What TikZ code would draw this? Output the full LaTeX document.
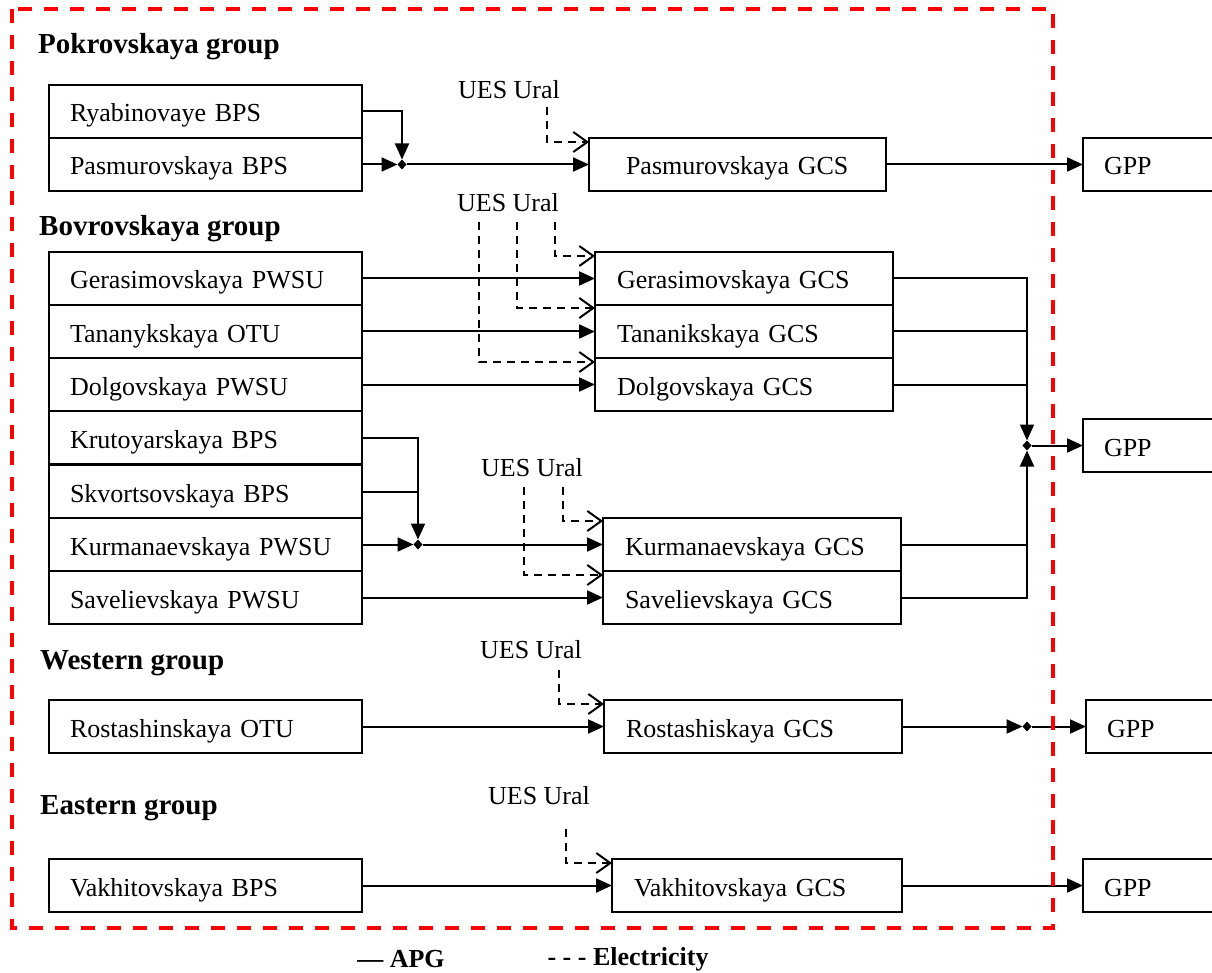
\documentclass[tikz,border=0pt]{standalone}
\usepackage{fontspec}
\setmainfont{Liberation Serif}
\usetikzlibrary{arrows.meta,shapes.geometric}
\begin{document}
\begin{tikzpicture}[x=1pt,y=-1pt,
  head/.style={font=\fontsize{29}{33}\selectfont\bfseries, anchor=west, inner sep=0pt},
  box/.style={draw, line width=2pt, rectangle, anchor=north west, outer sep=0pt, inner ysep=0pt, minimum height=53pt, text height=24pt, text depth=3pt, align=left, font=\fontsize{26}{30}\selectfont},
  lbox/.style={box, text width=271pt, inner xsep=21pt},
  gbox/.style={box, inner xsep=22pt},
  pbox/.style={box, inner xsep=21pt},
  apg/.style={line width=2pt, -{Triangle[length=16pt,width=14pt]}},
  pipe/.style={line width=2pt},
  elec/.style={line width=1.8pt, dash pattern=on 8pt off 6pt, -{Straight Barb[length=14pt,width=20pt,line width=2pt]}},
  ues/.style={font=\fontsize{26}{30}\selectfont, inner sep=0pt},
  junc/.style={diamond, fill=black, inner sep=0pt, outer sep=0pt, minimum width=9pt, minimum height=10pt},
  frame/.style={red, line width=3.2pt, dash pattern=on 14pt off 12pt},
  legend/.style={font=\fontsize{26}{30}\selectfont\bfseries, inner sep=0pt},
]
\useasboundingbox (0,0) rectangle (1212,973);

% headings
\node[head] (hPok) at (38,47) {Pokrovskaya group};
\node[head] (hBov) at (39,229) {Bovrovskaya group};
\node[head] (hWes) at (40,663) {Western group};
\node[head] (hEas) at (40,808) {Eastern group};

% left boxes
\node[lbox] (ryab)  at (49,85)  {Ryabinovaye BPS};
\node[lbox] (pasmB) at (49,138) {Pasmurovskaya BPS};
\node[lbox] (geras) at (49,252) {Gerasimovskaya PWSU};
\node[lbox] (tanan) at (49,305) {Tananykskaya OTU};
\node[lbox] (dolg)  at (49,358) {Dolgovskaya PWSU};
\node[lbox] (kruto) at (49,411) {Krutoyarskaya BPS};
\node[lbox] (skvo)  at (49,465) {Skvortsovskaya BPS};
\node[lbox] (kurmP) at (49,518) {Kurmanaevskaya PWSU};
\node[lbox] (savP)  at (49,571) {Savelievskaya PWSU};
\node[lbox] (rostO) at (49,700) {Rostashinskaya OTU};
\node[lbox] (vakhB) at (49,859) {Vakhitovskaya BPS};

% GCS boxes
\node[gbox, text width=223pt, inner xsep=37pt] (pasmG) at (589,138) {Pasmurovskaya GCS};
\node[gbox, text width=254pt] (gerasG) at (595,252) {Gerasimovskaya GCS};
\node[gbox, text width=254pt] (tananG) at (595,305) {Tananikskaya GCS};
\node[gbox, text width=254pt] (dolgG)  at (595,358) {Dolgovskaya GCS};
\node[gbox, text width=254pt] (kurmG)  at (603,518) {Kurmanaevskaya GCS};
\node[gbox, text width=254pt] (savG)   at (603,571) {Savelievskaya GCS};
\node[gbox, text width=254pt] (rostG)  at (604,700) {Rostashiskaya GCS};
\node[gbox, text width=246pt] (vakhG)  at (612,859) {Vakhitovskaya GCS};

% GPP boxes
\node[pbox, text width=89pt] (gpp1) at (1083,138) {GPP};
\node[pbox, text width=89pt] (gpp2) at (1083,419) {GPP};
\node[pbox, text width=86pt] (gpp3) at (1086,700) {GPP};
\node[pbox, text width=89pt] (gpp4) at (1083,859) {GPP};

% junctions
\node[junc] (j1) at (402,164.5) {};
\node[junc] (j2) at (1027,445.5) {};
\node[junc] (j3) at (418,544.5) {};
\node[junc] (j4) at (1027,726.5) {};

% Pokrovskaya
\draw[apg] (ryab.east) -| (j1);
\draw[apg] (pasmB.east) -- (j1);
\draw[apg] (j1) -- (pasmG.west);
\draw[apg] (pasmG.east) -- (gpp1.west);

% Bovrovskaya
\draw[apg] (geras.east) -- (gerasG.west);
\draw[apg] (tanan.east) -- (tananG.west);
\draw[apg] (dolg.east) -- (dolgG.west);
\draw[apg] (gerasG.east) -| (j2);
\draw[pipe] (tananG.east) -- (tananG.east -| j2);
\draw[pipe] (dolgG.east) -- (dolgG.east -| j2);
\draw[apg] (savG.east) -| (j2);
\draw[pipe] (kurmG.east) -- (kurmG.east -| j2);
\draw[apg] (j2) -- (gpp2.west);
\draw[apg] (kruto.east) -| (j3);
\draw[pipe] (skvo.east) -- (skvo.east -| j3);
\draw[apg] (kurmP.east) -- (j3);
\draw[apg] (j3) -- (kurmG.west);
\draw[apg] (savP.east) -- (savG.west);

% Western
\draw[apg] (rostO.east) -- (rostG.west);
\draw[apg] (rostG.east) -- (j4);
\draw[apg] (j4) -- (gpp3.west);

% Eastern
\draw[apg] (vakhB.east) -- (vakhG.west);
\draw[apg] (vakhG.east) -- (gpp4.west);

% UES Ural labels
\node[ues] (u1) at (509,90)  {UES Ural};
\node[ues] (u2) at (508,203) {UES Ural};
\node[ues] (u3) at (532,468) {UES Ural};
\node[ues] (u4) at (531,650) {UES Ural};
\node[ues] (u5) at (539,796) {UES Ural};

% electricity
\coordinate (e1) at (547,107);
\coordinate (e2) at (555,222);
\coordinate (e3) at (517,222);
\coordinate (e4) at (479,222);
\coordinate (e5) at (563,487);
\coordinate (e6) at (524,487);
\coordinate (e7) at (559,670);
\coordinate (e8) at (566,829);
\draw[elec] (e1) |- ([yshift=-4pt]pasmG.north west);
\draw[elec] (e2) |- ([yshift=-4pt]gerasG.north west);
\draw[elec] (e3) |- ([yshift=-3pt]tananG.north west);
\draw[elec] (e4) |- ([yshift=-4pt]dolgG.north west);
\draw[elec] (e5) |- ([yshift=-3pt]kurmG.north west);
\draw[elec] (e6) |- ([yshift=-4pt]savG.north west);
\draw[elec] (e7) |- ([yshift=-4pt]rostG.north west);
\draw[elec] (e8) |- ([yshift=-4pt]vakhG.north west);

% legend
\node[legend] (lg1) at (401,959) {— APG};
\node[legend] (lg2) at (628,959) {- - - Electricity};

% frame
\draw[frame] (12,9) rectangle (1053,928);
\end{tikzpicture}
\end{document}
